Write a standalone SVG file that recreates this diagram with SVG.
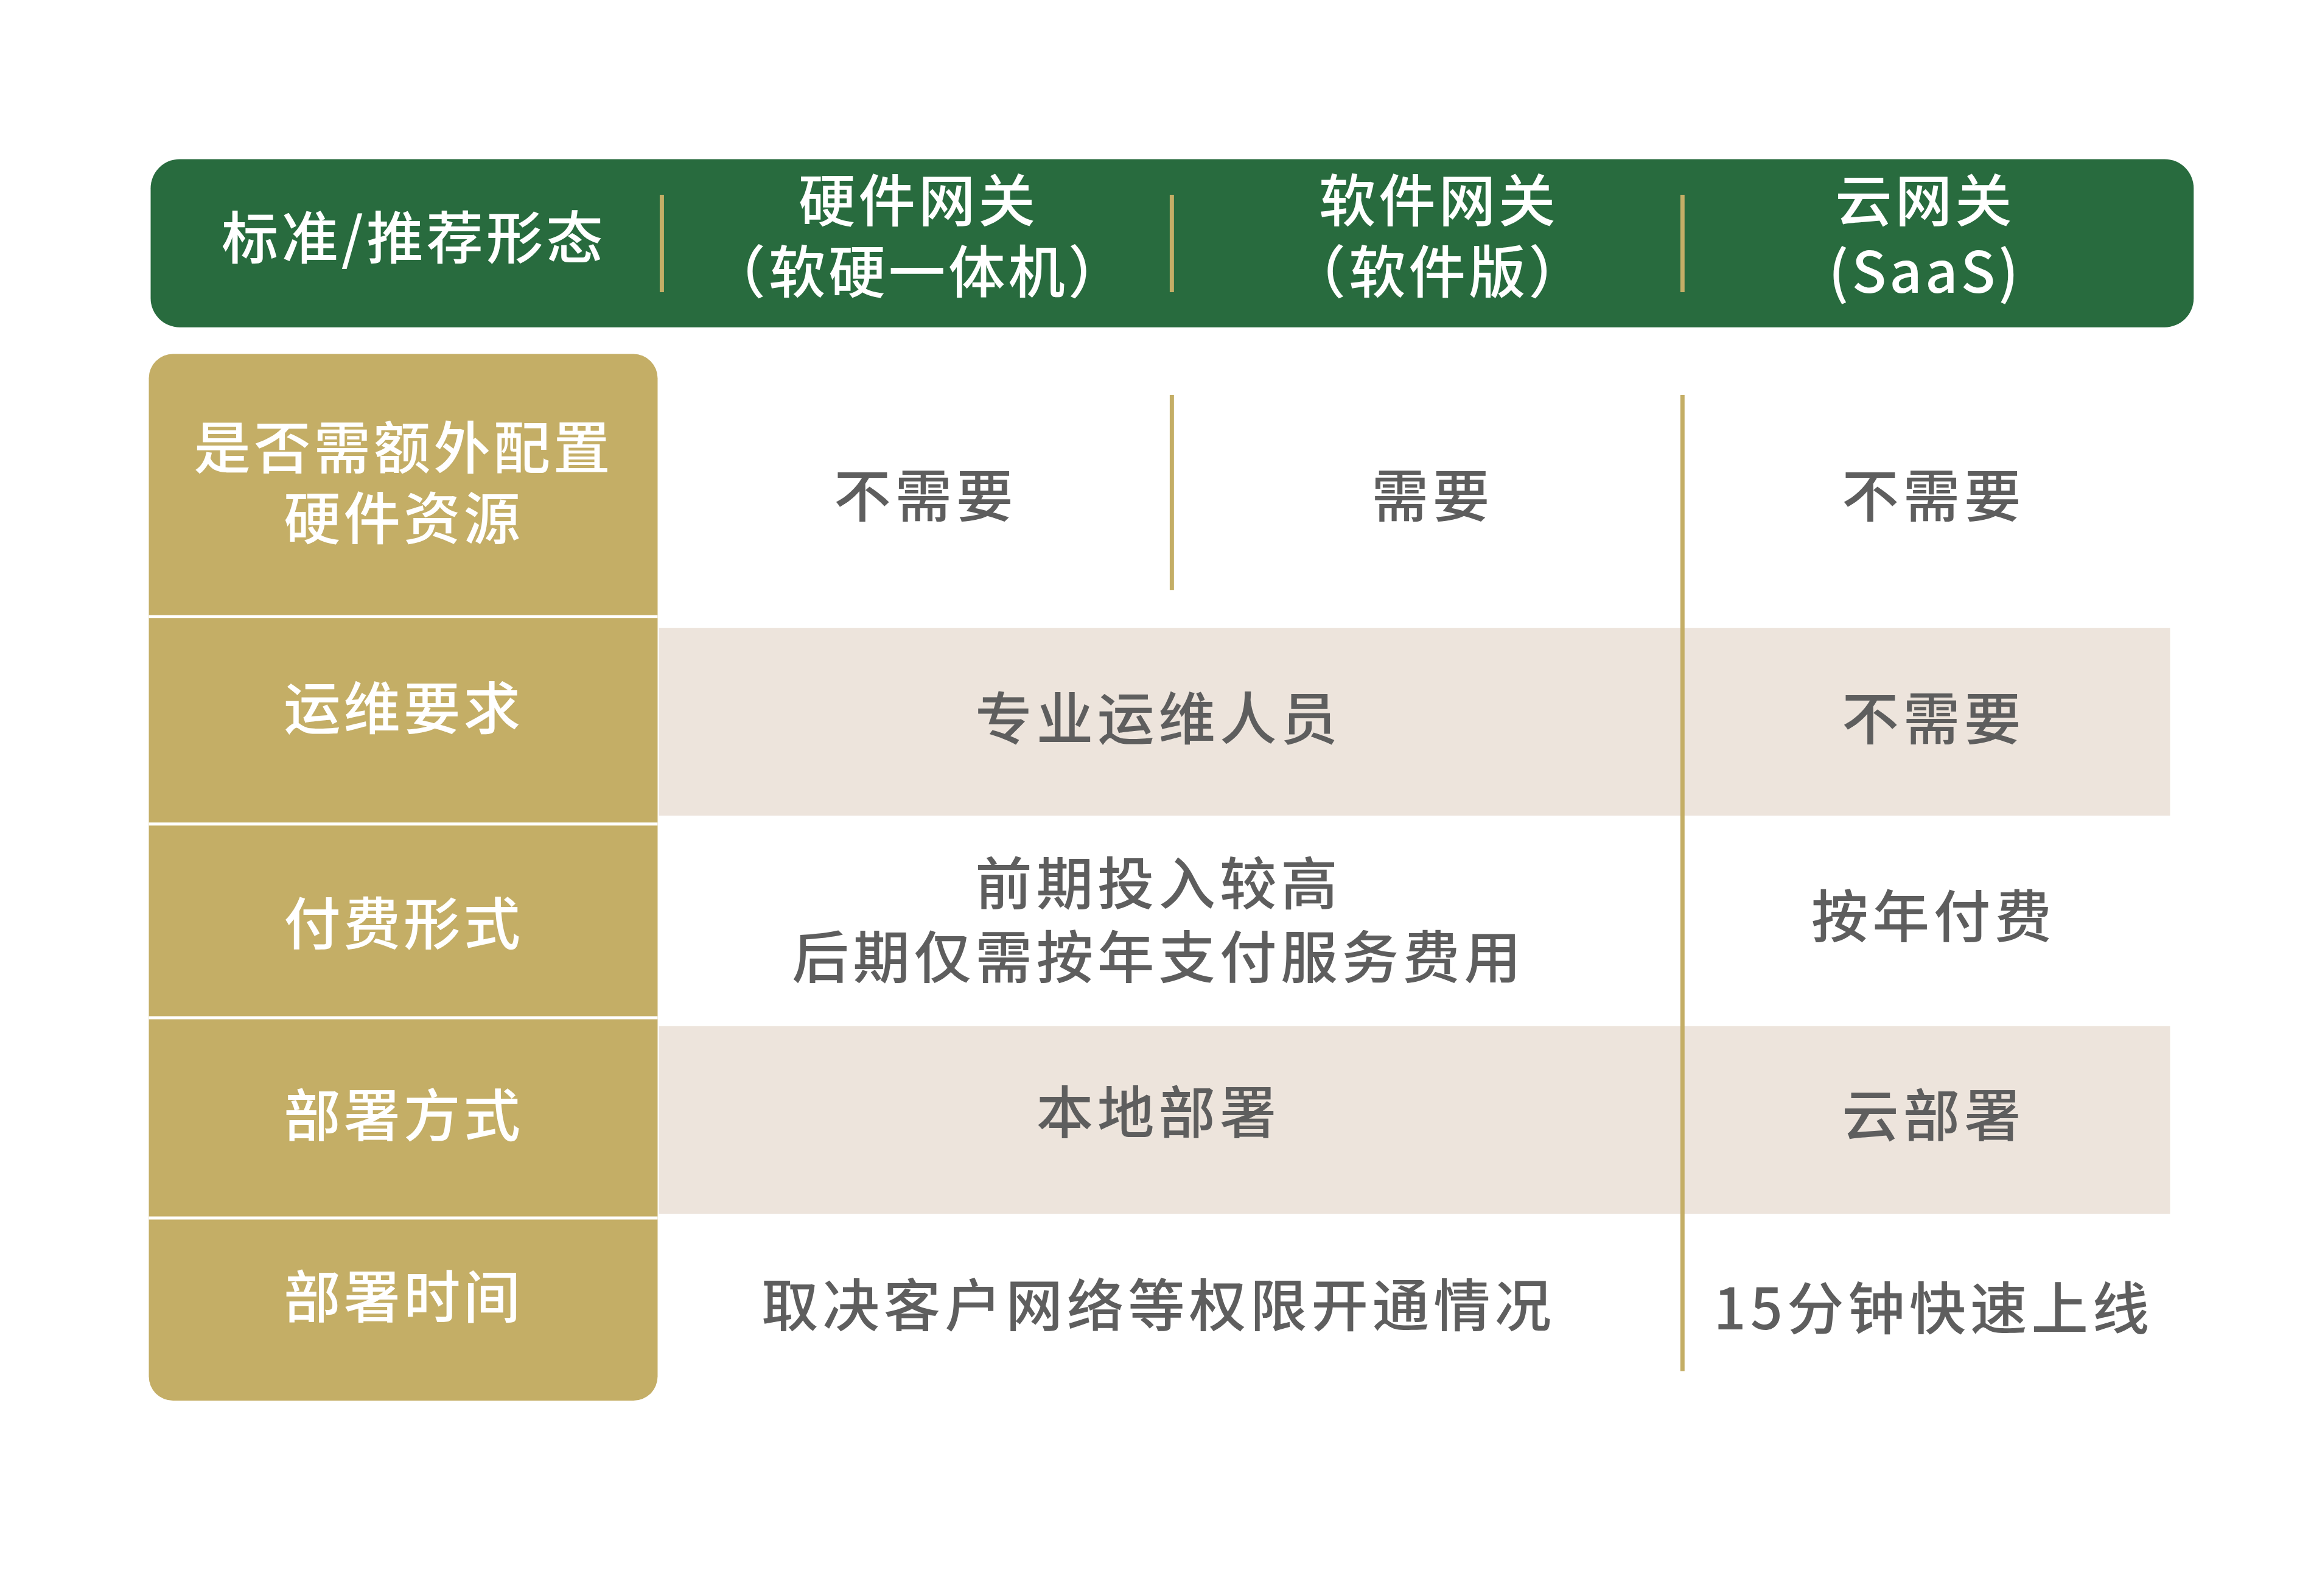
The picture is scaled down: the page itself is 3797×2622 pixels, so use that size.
<svg xmlns="http://www.w3.org/2000/svg" width="3797" height="2622" viewBox="0 0 3797 2622">
<style>
text{font-family:"Noto Sans CJK SC","Noto Sans",sans-serif;font-size:94px;text-anchor:middle;letter-spacing:5px}
.h{fill:#fff;font-weight:500}
.c{fill:#5e5e5e;font-weight:500;letter-spacing:7px}
.gl{stroke:#c4ae66;stroke-width:7}
.wl{stroke:#fff;stroke-width:5}
</style>
<rect width="3797" height="2622" fill="#fff"/>
<g transform="scale(0.994)">
<g id="header">
<rect x="249" y="263" width="3377" height="278" rx="48" fill="#286b3e"/>
<text class="h" x="684" y="428">标准/推荐形态</text>
<text class="h" x="1518" y="366">硬件网关</text>
<text class="h" x="1518" y="484">（软硬一体机）</text>
<text class="h" x="2378" y="366">软件网关</text>
<text class="h" x="2378" y="484">（软件版）</text>
<text class="h" x="3182" y="366">云网关</text>
<text class="h" x="3182" y="484">(SaaS)</text>
</g>
<g id="bands">
<rect x="1089" y="1038" width="2498" height="310" fill="#ede4dc"/>
<rect x="1089" y="1696" width="2498" height="310" fill="#ede4dc"/>
</g>
<g id="rowlabels">
<rect x="246" y="585" width="841" height="1730" rx="40" fill="#c4ae66"/>
<line class="wl" x1="246" y1="1019" x2="1087" y2="1019"/>
<line class="wl" x1="246" y1="1362" x2="1087" y2="1362"/>
<line class="wl" x1="246" y1="1682" x2="1087" y2="1682"/>
<line class="wl" x1="246" y1="2013" x2="1087" y2="2013"/>
<text class="h" x="667" y="775">是否需额外配置</text>
<text class="h" x="667" y="891">硬件资源</text>
<text class="h" x="667" y="1205">运维要求</text>
<text class="h" x="667" y="1561">付费形式</text>
<text class="h" x="667" y="1878">部署方式</text>
<text class="h" x="667" y="2178">部署时间</text>
</g>
<g id="connectors">
<line class="gl" x1="1094" y1="322" x2="1094" y2="483"/>
<line class="gl" x1="1937" y1="322" x2="1937" y2="483"/>
<line class="gl" x1="2781" y1="322" x2="2781" y2="483"/>
<line class="gl" x1="1937" y1="653" x2="1937" y2="975"/>
<line class="gl" x1="2781" y1="653" x2="2781" y2="2266"/>
</g>
<g id="cells">
<text class="c" x="1530" y="854">不需要</text>
<text class="c" x="2368" y="854">需要</text>
<text class="c" x="3196" y="854">不需要</text>
<text class="c" x="1915" y="1222">专业运维人员</text>
<text class="c" x="3196" y="1222">不需要</text>
<text class="c" x="1915" y="1495">前期投入较高</text>
<text class="c" x="1915" y="1617">后期仅需按年支付服务费用</text>
<text class="c" x="3196" y="1549">按年付费</text>
<text class="c" x="1915" y="1873">本地部署</text>
<text class="c" x="3196" y="1878">云部署</text>
<text class="c" x="1915" y="2192">取决客户网络等权限开通情况</text>
<text class="c" x="3196" y="2197">15分钟快速上线</text>
</g>
</g>
</svg>
